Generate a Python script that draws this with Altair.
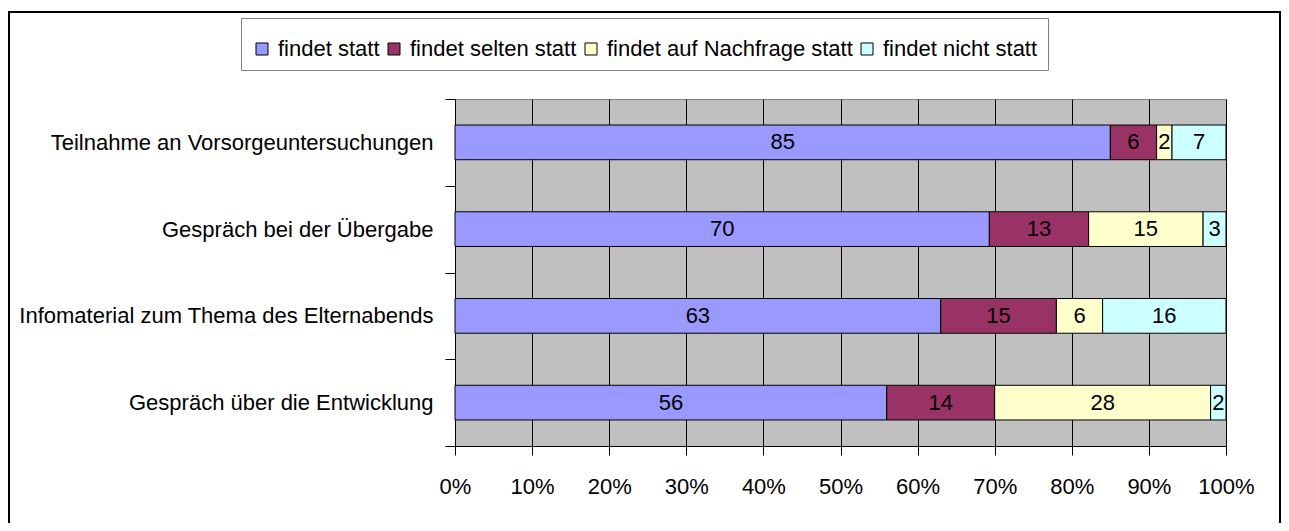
import altair as alt
import pandas as pd

categories = [
    "Teilnahme an Vorsorgeuntersuchungen",
    "Gespräch bei der Übergabe",
    "Infomaterial zum Thema des Elternabends",
    "Gespräch über die Entwicklung",
]
series = ["findet statt", "findet selten statt", "findet auf Nachfrage statt", "findet nicht statt"]
findet_statt = [85, 70, 63, 56]
findet_selten = [6, 13, 15, 14]
auf_nachfrage = [2, 15, 6, 28]
findet_nicht = [7, 3, 16, 2]
colors = ["#9999FF", "#993366", "#FFFFCC", "#CCFFFF"]
x_ticks = [i / 10 for i in range(11)]

rows = []
for i, c in enumerate(categories):
    for j, (s, vals) in enumerate(zip(series, [findet_statt, findet_selten, auf_nachfrage, findet_nicht])):
        rows.append({"kategorie": c, "serie": s, "wert": vals[i], "ordnung": j})
df = pd.DataFrame(rows)

FONT = "Liberation Sans"
FS = 22

base = alt.Chart(df).transform_stack(
    stack="wert",
    groupby=["kategorie"],
    as_=["x0", "x1"],
    offset="normalize",
    sort=[alt.SortField("ordnung", order="ascending")],
).transform_calculate(mid="(datum.x0 + datum.x1) / 2")

y_enc = alt.Y(
    "kategorie:N",
    sort=categories,
    title=None,
    scale=alt.Scale(paddingInner=0, paddingOuter=0),
    axis=alt.Axis(
        tickBand="extent",
        tickSize=10,
        tickColor="black",
        domainColor="black",
        labelPadding=12,
        labelFont=FONT,
        labelFontSize=FS,
        labelColor="black",
        labelLimit=600,
        grid=False,
    ),
)

bars = base.mark_bar(stroke="black", strokeWidth=1, height={"band": 0.4}).encode(
    x=alt.X(
        "x0:Q",
        title=None,
        scale=alt.Scale(domain=[0, 1], nice=False),
        axis=alt.Axis(
            format=".0%",
            values=x_ticks,
            labelOverlap=False,
            labelFlush=False,
            grid=True,
            gridColor="black",
            gridOpacity=1,
            gridWidth=1,
            tickSize=9,
            tickColor="black",
            domainColor="black",
            labelFont=FONT,
            labelFontSize=FS,
            labelColor="black",
            labelPadding=21,
        ),
    ),
    x2="x1:Q",
    y=y_enc,
    color=alt.Color(
        "serie:N",
        scale=alt.Scale(domain=series, range=colors),
        legend=alt.Legend(
            title=" ",
            titleFontSize=8,
            titlePadding=2,
            orient="none",
            legendX=-214,
            legendY=-81,
            direction="horizontal",
            columns=4,
            symbolType="square",
            symbolSize=144,
            symbolStrokeColor="black",
            symbolStrokeWidth=1,
            labelFont=FONT,
            labelFontSize=22,
            labelColor="black",
            labelOffset=5,
            columnPadding=3,
            padding=10,
            strokeColor="#808080",
            fillColor="white",
            labelLimit=600,
        ),
    ),
)

text = base.mark_text(font=FONT, fontSize=FS, color="black").encode(
    x=alt.X("mid:Q", title=None),
    y=alt.Y("kategorie:N", sort=categories, title=None),
    text="wert:Q",
)

frame = alt.Chart(pd.DataFrame({"r": [0]})).mark_rect(
    fill="white", fillOpacity=0, stroke="black", strokeWidth=2
).encode(
    x=alt.value(-446),
    x2=alt.value(825),
    y=alt.value(-87),
    y2=alt.value(480),
)

chart = alt.layer(frame, bars, text).properties(
    width=771,
    height=347,
    background="white",
    autosize=alt.AutoSizeParams(type="none"),
    padding={"left": 447, "top": 91, "right": 55, "bottom": 77},
).configure_view(
    fill="#C0C0C0", stroke="#808080", strokeWidth=1
)

chart.save("out.html", embed_options={"renderer": "svg", "actions": False})
